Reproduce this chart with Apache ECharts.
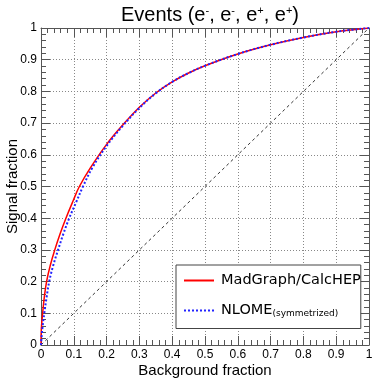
<!DOCTYPE html>
<html>
<head>
<meta charset="utf-8">
<script src="https://cdn.jsdelivr.net/npm/echarts@6/dist/echarts.min.js"></script>
<style>
  html, body { margin: 0; padding: 0; background: #fff; }
  #chart { width: 382px; height: 382px; }
</style>
</head>
<body>
<div id="chart"></div>
<script>
const xTicks = [0, 0.1, 0.2, 0.3, 0.4, 0.5, 0.6, 0.7, 0.8, 0.9, 1];

// MadGraph/CalcHEP ROC curve (background fraction, signal fraction)
const madX = [0, 0.001, 0.005, 0.01, 0.017, 0.028, 0.042, 0.058, 0.076, 0.098, 0.117, 0.15, 0.2, 0.25, 0.3, 0.35, 0.4, 0.45, 0.5, 0.6, 0.7, 0.8, 0.9, 1];
const madY = [0, 0.05, 0.1, 0.15, 0.2, 0.25, 0.3, 0.35, 0.4, 0.455, 0.5, 0.558, 0.633, 0.695, 0.75, 0.795, 0.83, 0.858, 0.881, 0.918, 0.947, 0.97, 0.988, 1];

// NLOME (symmetrized)
const nloX = [0, 0.004, 0.01, 0.017, 0.025, 0.037, 0.052, 0.068, 0.086, 0.107, 0.128, 0.157, 0.2, 0.25, 0.3, 0.35, 0.4, 0.45, 0.5, 0.6, 0.7, 0.8, 0.9, 1];
const nloY = [0, 0.05, 0.1, 0.15, 0.2, 0.25, 0.3, 0.35, 0.4, 0.45, 0.5, 0.56, 0.628, 0.692, 0.748, 0.794, 0.83, 0.858, 0.881, 0.918, 0.947, 0.97, 0.988, 1];

const diagX = [0, 1];
const diagY = [0, 1];

function pairs(xs, ys) {
  return xs.map((x, i) => [x, ys[i]]);
}

const font = "Liberation Sans, Arial, sans-serif";
const legendFont = "DejaVu Sans, sans-serif";
const frameColor = "#555";

function frameAxis(extra) {
  return Object.assign({
    type: "value",
    min: 0,
    max: 1,
    interval: 0.1,
    axisLine: { show: true, onZero: false, lineStyle: { color: frameColor, width: 1 } },
    axisTick: { show: true, inside: true, length: 9, lineStyle: { color: frameColor } },
    minorTick: { show: true, splitNumber: 5, length: 5, lineStyle: { color: frameColor } },
    axisLabel: { show: false },
    splitLine: { show: false },
  }, extra);
}

const chart = echarts.init(document.getElementById("chart"));
chart.setOption({
  animation: false,
  backgroundColor: "#fff",
  title: {
    text: "Events (e{s|-}, e{s|-}, e{s|+}, e{s|+})",
    left: 205,
    textAlign: "center",
    top: 0,
    textStyle: {
      fontFamily: font,
      fontSize: 20,
      fontWeight: "normal",
      color: "#000",
      rich: {
        s: { fontFamily: font, fontSize: 11, color: "#000", padding: [0, 0, 10, 0] },
      },
    },
  },
  grid: { left: 41, right: 13, top: 28, bottom: 37, outerBoundsMode: "none", containLabel: false },
  legend: {
    orient: "vertical",
    left: 176,
    top: 265,
    itemWidth: 30,
    itemHeight: 17,
    itemGap: 15,
    padding: [8, 0, 10, 7],
    borderColor: "#444",
    borderWidth: 1,
    backgroundColor: "#fff",
    itemStyle: { opacity: 0 },
    data: ["MadGraph/CalcHEP", "NLOME"],
    formatter: name => name === "NLOME" ? "{a|NLOME}{b|(symmetrized)}" : "{a|" + name + "}",
    textStyle: {
      rich: {
        a: { fontFamily: legendFont, fontSize: 14.5, color: "#000", padding: [0, 0, 0, 2] },
        b: { fontFamily: legendFont, fontSize: 9, color: "#000", padding: [7, 0, 0, 0] },
      },
    },
  },
  xAxis: [
    frameAxis({
      position: "bottom",
      name: "Background fraction",
      nameLocation: "middle",
      nameGap: 18,
      nameMoveOverlap: false,
      nameTextStyle: { fontFamily: font, fontSize: 15, color: "#000" },
      axisLabel: { show: true, margin: 4, fontFamily: font, fontSize: 12, color: "#000" },
      splitLine: { show: true, lineStyle: { type: [1, 2], color: "#888", width: 1 } },
    }),
    frameAxis({ position: "top" }),
  ],
  yAxis: [
    frameAxis({
      position: "left",
      name: "Signal fraction",
      nameLocation: "middle",
      nameGap: 21,
      nameMoveOverlap: false,
      nameTextStyle: { fontFamily: font, fontSize: 15, color: "#000" },
      axisLabel: { show: true, margin: 4, fontFamily: font, fontSize: 12, color: "#000" },
      splitLine: { show: true, lineStyle: { type: [1, 2], color: "#888", width: 1 } },
    }),
    frameAxis({ position: "right" }),
  ],
  series: [
    {
      name: "diagonal",
      type: "line",
      data: pairs(diagX, diagY),
      symbol: "none",
      lineStyle: { color: "#333", width: 1, type: [3, 3] },
      silent: true,
    },
    {
      name: "MadGraph/CalcHEP",
      type: "line",
      data: pairs(madX, madY),
      symbol: "none",
      smooth: 0.4,
      lineStyle: { color: "#ff0000", width: 1.5 },
      itemStyle: { color: "#ff0000" },
    },
    {
      name: "NLOME",
      type: "line",
      data: pairs(nloX, nloY),
      symbol: "none",
      smooth: 0.4,
      lineStyle: { color: "#2222ff", width: 2, type: [2, 2] },
      itemStyle: { color: "#2222ff" },
    },
  ],
});
</script>
</body>
</html>
